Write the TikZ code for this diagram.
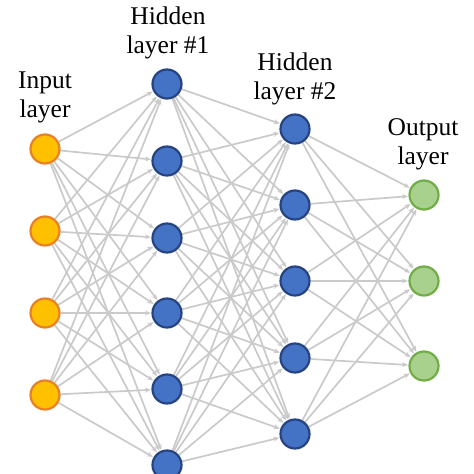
\documentclass[tikz,border=0pt]{standalone}
\usepackage{fontspec}
\setmainfont{Liberation Serif}
\usetikzlibrary{arrows.meta,backgrounds}
\definecolor{inFill}{RGB}{255,192,0}
\definecolor{inDraw}{RGB}{232,128,40}
\definecolor{hidFill}{RGB}{68,114,196}
\definecolor{hidDraw}{RGB}{38,68,130}
\definecolor{outFill}{RGB}{169,209,142}
\definecolor{outDraw}{RGB}{112,173,71}
\definecolor{edgeGray}{RGB}{202,202,202}
\tikzset{
  neuron/.style={circle, minimum size=29bp, inner sep=0pt, line width=2.2bp},
  inneuron/.style={neuron, fill=inFill, draw=inDraw},
  hidneuron/.style={neuron, fill=hidFill, draw=hidDraw},
  outneuron/.style={neuron, fill=outFill, draw=outDraw},
  conn/.style={draw=edgeGray, line width=1.7bp, -{Stealth[length=6bp,width=5bp]}, shorten >=0.5bp},
  lbl/.style={align=center, anchor=base, inner sep=0pt, font=\fontsize{25.5bp}{29.5bp}\selectfont}
}
\begin{document}
\begin{tikzpicture}[x=1bp,y=-1bp]
\useasboundingbox (0,0) rectangle (474,474);
% labels (anchor at baseline of the last line)
\node[lbl] (lin) at (45,118) {Input\\layer};
\node[lbl] (lh1) at (168,54) {Hidden\\layer \#1};
\node[lbl] (lh2) at (295,100) {Hidden\\layer \#2};
\node[lbl] (lout) at (423,165) {Output\\layer};
% input layer
\foreach \i/\y in {1/149,2/231,3/313,4/395}
  \node[inneuron] (i\i) at (45,\y) {};
% hidden layer 1
\foreach \i/\y in {1/84,2/161,3/238,4/313,5/389,6/465}
  \node[hidneuron] (a\i) at (167,\y) {};
% hidden layer 2
\foreach \i/\y in {1/129,2/205,3/281,4/358,5/434}
  \node[hidneuron] (b\i) at (295,\y) {};
% output layer
\foreach \i/\y in {1/195,2/281,3/366}
  \node[outneuron] (o\i) at (424,\y) {};
\begin{scope}[on background layer]
\foreach \s in {1,...,4}
  \foreach \t in {1,...,6}
    \draw[conn] (i\s) -- (a\t);
\foreach \s in {1,...,6}
  \foreach \t in {1,...,5}
    \draw[conn] (a\s) -- (b\t);
\foreach \s in {1,...,5}
  \foreach \t in {1,...,3}
    \draw[conn] (b\s) -- (o\t);
\end{scope}
\end{tikzpicture}
\end{document}
